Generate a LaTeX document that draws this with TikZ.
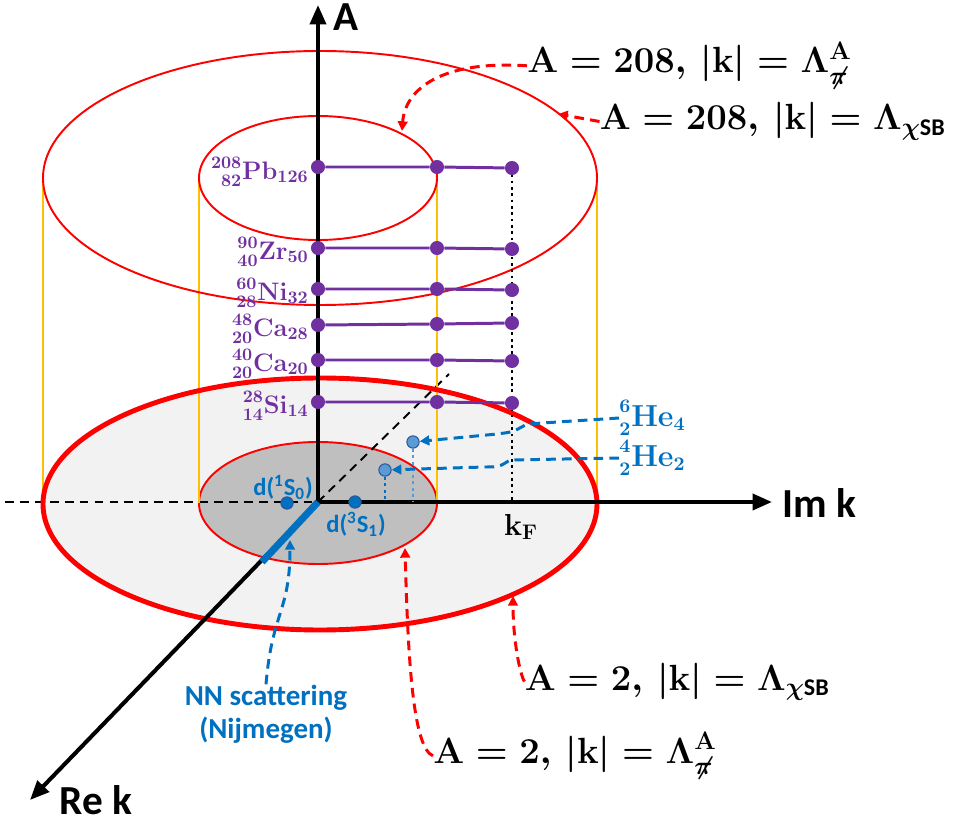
\documentclass[tikz,border=0pt]{standalone}
\usepackage{fontspec}
\setsansfont{Carlito}
\usepackage{mathtools}
\usetikzlibrary{arrows.meta}
\definecolor{cylred}{HTML}{FF0000}
\definecolor{cylgold}{HTML}{FFC000}
\definecolor{nucpurple}{HTML}{7030A0}
\definecolor{nnblue}{HTML}{0070C0}
\definecolor{heblue}{HTML}{5B9BD5}
\definecolor{pointedge}{HTML}{2F5597}
\definecolor{shellgray}{HTML}{F2F2F2}
\definecolor{coregray}{HTML}{BFBFBF}
\newcommand{\cutfont}{\fontsize{19.5}{23}\selectfont\boldmath}
\tikzset{
  axis/.style={draw=black,line width=2.3pt,-{Triangle[length=11pt,width=9pt]}},
  back axis/.style={draw=black,line width=1.1pt,dash pattern=on 5pt off 3.5pt},
  nn segment/.style={draw=nnblue,line width=4pt},
  rim/.style={draw=cylred,line width=1.1pt},
  thick rim/.style={draw=cylred,line width=2.8pt},
  wall/.style={draw=cylgold,line width=1.1pt},
  fermi/.style={draw=black,line width=1.6pt,dash pattern=on 1.6pt off 2pt},
  level/.style={draw=nucpurple,line width=1.7pt},
  nucleus/.style={circle,fill=nucpurple,inner sep=0pt,minimum size=8pt},
  deuteron/.style={circle,fill=nnblue,draw=pointedge,line width=0.6pt,
    inner sep=0pt,minimum size=7pt},
  helium/.style={circle,fill=heblue,draw=pointedge,line width=0.6pt,
    inner sep=0pt,minimum size=7pt},
  drop/.style={line width=1.7pt,dash pattern=on 1.7pt off 2pt},
  red link/.style={draw=cylred,line width=1.7pt,dash pattern=on 5.5pt off 3.5pt,
    -{Triangle[length=5.5pt,width=5.5pt]}},
  blue link/.style={draw=nnblue,line width=1.7pt,dash pattern=on 5.5pt off 3.5pt,
    -{Triangle[length=5.5pt,width=5.5pt]}},
  axis label/.style={font=\sffamily\bfseries\fontsize{23.5}{26}\selectfont,inner sep=0pt},
  nuc label/.style={text=nucpurple,anchor=east,inner sep=0pt,
    font=\fontsize{14}{16}\selectfont\boldmath},
  he label/.style={text=nnblue,anchor=west,inner sep=0pt,
    font=\fontsize{16}{18}\selectfont\boldmath},
  d label/.style={text=nnblue,inner sep=0pt,font=\sffamily\bfseries\fontsize{14}{16}\selectfont},
  nn label/.style={text=nnblue,align=center,inner sep=0pt,
    font=\sffamily\bfseries\fontsize{16.5}{19}\selectfont},
  cut label/.style={anchor=base west,inner sep=0pt,font=\cutfont}
}

\begin{document}
\begin{tikzpicture}[x=0.02cm,y=-0.02cm]
  \useasboundingbox (0,0) rectangle (954,824);
  \coordinate (O) at (318,502);
  \coordinate (Atip) at (318,5);
  \coordinate (Imtip) at (772,502);
  \coordinate (Retip) at (30,800);
  \coordinate (Imback) at (5,502);
  \coordinate (Reback) at (449,374);
  \coordinate (segend) at (262,562);
  % bottom plane, A = 2
  \fill[shellgray] (320,504) ellipse [x radius=277,y radius=126];
  \filldraw[fill=coregray,rim] (318,503) ellipse [x radius=119,y radius=61];
  \draw[back axis] (Imback) -- (O);
  \draw[back axis] (O) -- (Reback);
  % cylinder walls
  \draw[wall] (43,178) -- (43,504);
  \draw[wall] (597,178) -- (597,504);
  \draw[wall] (199,178) -- (199,503);
  \draw[wall] (437,178) -- (437,503);
  % top plane, A = 208
  \draw[rim] (320,178) ellipse [x radius=277,y radius=127];
  \draw[rim] (318,178) ellipse [x radius=119,y radius=62];
  \draw[thick rim] (320,504) ellipse [x radius=277,y radius=126];
  % axes
  \draw[axis] (O) -- (Atip);
  \draw[axis] (O) -- (Imtip);
  \draw[axis] (O) -- (Retip);
  \draw[nn segment] (O) -- (segend);
  \node[axis label] (Alab) at (346,17) {A};
  \node[axis label,anchor=west] (Imlab) at (782,503) {Im k};
  \node[axis label] (Relab) at (96,800) {Re k};
  % Fermi momentum
  \coordinate (kFtop) at (512,168);
  \coordinate (kF) at (512,502);
  \draw[fermi] (kFtop) -- (kF);
  \node[inner sep=0pt,font=\fontsize{18}{20}\selectfont\boldmath] (kFlab) at (521,527)
    {$\mathbf{k}_{\mathbf{F}}$};
  % nuclei
  \node[nucleus] (pb0) at (318,167) {};
  \node[nucleus] (pb1) at (437,167) {};
  \node[nucleus] (pb2) at (512,168) {};
  \draw[level] (pb0) -- (pb1) -- (pb2);
  \node[nuc label] (pblab) at (309,172) {$\prescript{208}{82}{\mathbf{Pb}}_{126}$};
  \node[nucleus] (zr0) at (318,248) {};
  \node[nucleus] (zr1) at (437,248) {};
  \node[nucleus] (zr2) at (512,249) {};
  \draw[level] (zr0) -- (zr1) -- (zr2);
  \node[nuc label] (zrlab) at (309,252) {$\prescript{90}{40}{\mathbf{Zr}}_{50}$};
  \node[nucleus] (ni0) at (318,289) {};
  \node[nucleus] (ni1) at (437,289) {};
  \node[nucleus] (ni2) at (512,290) {};
  \draw[level] (ni0) -- (ni1) -- (ni2);
  \node[nuc label] (nilab) at (309,293) {$\prescript{60}{28}{\mathbf{Ni}}_{32}$};
  \node[nucleus] (cb0) at (318,325) {};
  \node[nucleus] (cb1) at (437,324) {};
  \node[nucleus] (cb2) at (512,323) {};
  \draw[level] (cb0) -- (cb1) -- (cb2);
  \node[nuc label] (cblab) at (309,329) {$\prescript{48}{20}{\mathbf{Ca}}_{28}$};
  \node[nucleus] (ca0) at (318,360) {};
  \node[nucleus] (ca1) at (437,360) {};
  \node[nucleus] (ca2) at (512,361) {};
  \draw[level] (ca0) -- (ca1) -- (ca2);
  \node[nuc label] (calab) at (309,364) {$\prescript{40}{20}{\mathbf{Ca}}_{20}$};
  \node[nucleus] (si0) at (318,402) {};
  \node[nucleus] (si1) at (437,402) {};
  \node[nucleus] (si2) at (512,403) {};
  \draw[level] (si0) -- (si1) -- (si2);
  \node[nuc label] (silab) at (309,406) {$\prescript{28}{14}{\mathbf{Si}}_{14}$};
  % deuteron and helium
  \node[deuteron] (d1) at (287,503) {};
  \node[deuteron] (d3) at (355,502) {};
  \node[d label] (d1lab) at (283,487) {d(\textsuperscript{1}S\textsubscript{0})};
  \node[d label] (d3lab) at (356,524) {d(\textsuperscript{3}S\textsubscript{1})};
  \node[helium] (he6) at (413,442) {};
  \node[helium] (he4) at (385,470) {};
  \coordinate (he6foot) at (413,502);
  \coordinate (he4foot) at (385,502);
  \draw[drop,draw=heblue] (he6) -- (he6foot);
  \draw[drop,draw=nnblue] (he4) -- (he4foot);
  \node[he label] (he6lab) at (619,418) {$\prescript{6}{2}{\mathbf{He}}_{4}$};
  \node[he label] (he4lab) at (619,458) {$\prescript{4}{2}{\mathbf{He}}_{2}$};
  \draw[blue link] (he6lab.west) -- (527,424) .. controls (513,432) .. (497,434) -- (he6);
  \draw[blue link] (he4lab.west) -- (510,460) .. controls (499,467) .. (485,467) -- (he4);
  \coordinate (nnseg) at (290,540);
  \node[nn label] (nnlab) at (266,714) {NN scattering\\(Nijmegen)};
  \draw[blue link] (nnlab.north) .. controls (272,612) and (290,612) .. (nnseg);
  % cut-off labels
  \coordinate (rim208pi) at (402,131);
  \coordinate (rim208chi) at (558,114);
  \coordinate (rim2chi) at (513,596);
  \coordinate (rim2pi) at (405,548);
  \node[cut label] (lab208pi) at (527,73)
    {$\mathbf{A}=\mathbf{208},\,|\mathbf{k}|=\Lambda^{\mathbf{A}}_{\not\pi}$};
  \node[cut label,anchor=base east] (lab208chi) at (946,130)
    {$\mathbf{A}=\mathbf{208},\,|\mathbf{k}|=\Lambda_{\chi\mathsf{SB}}$};
  \node[cut label,anchor=base east] (lab2chi) at (830,690)
    {$\mathbf{A}=\mathbf{2},\,|\mathbf{k}|=\Lambda_{\chi\mathsf{SB}}$};
  \node[cut label] (lab2pi) at (433,763)
    {$\mathbf{A}=\mathbf{2},\,|\mathbf{k}|=\Lambda^{\mathbf{A}}_{\not\pi}$};
  \draw[red link] (lab208pi.west) .. controls (440,60) and (405,90) .. (rim208pi);
  \draw[red link] (lab208chi.west) -- (rim208chi);
  \draw[red link] (lab2chi.west) .. controls (520,675) and (513,640) .. (rim2chi);
  \draw[red link] (lab2pi.west) .. controls (413,748) and (408,660) .. (rim2pi);
\end{tikzpicture}
\end{document}
